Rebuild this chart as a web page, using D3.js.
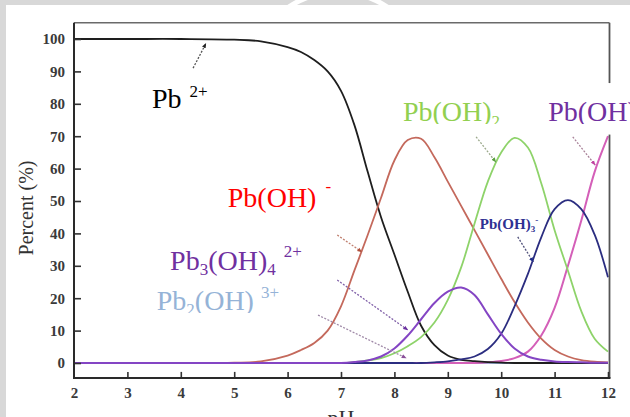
<!DOCTYPE html>
<html>
<head>
<meta charset="utf-8">
<script src="https://cdn.jsdelivr.net/npm/d3@7"></script>
<style>
  html, body { margin: 0; padding: 0; background: #fff; overflow: hidden; }
  svg { display: block; }
  svg text { font-family: "Liberation Serif", "Times New Roman", serif; }
</style>
</head>
<body>
<svg id="chart" width="630" height="417"></svg>
<script>
// ---------------- DATA ----------------
const pH = [2, 3, 4, 5, 5.5, 6, 6.25, 6.5, 6.75, 7, 7.25, 7.5, 7.75, 8, 8.25, 8.5, 8.75, 9, 9.25, 9.5, 9.75, 10, 10.25, 10.5, 10.75, 11, 11.25, 11.5, 11.75, 12];

const pb2 =      [100, 100, 100, 99.8, 99.3, 97.5, 96, 93.5, 90, 84, 73.5, 59, 45, 33.5, 22, 11.5, 5.5, 2.3, 1, 0.6, 0.3, 0.1, 0, 0, 0, 0, 0, 0, 0, 0];
const pbOH =     [0, 0, 0, 0.1, 0.5, 2.3, 4, 6.2, 10, 17.5, 28.5, 39.5, 51, 62.5, 68.8, 69.2, 63.5, 56, 48.5, 41, 33.5, 26, 18.8, 12.5, 7.5, 4, 2, 0.9, 0.4, 0.2];
const pbOH2 =    [0, 0, 0, 0, 0, 0, 0, 0, 0, 0, 0.3, 0.8, 1.5, 3, 5.2, 8, 12.5, 19.5, 29.5, 43, 56, 65, 69.5, 66.5, 55.5, 41, 28.5, 16, 7.5, 3.5];
const pbOH3 =    [0, 0, 0, 0, 0, 0, 0, 0, 0, 0, 0, 0, 0, 0, 0, 0, 0.2, 0.5, 1.1, 2, 4.3, 9, 17.5, 27.5, 38.8, 47.5, 50.3, 47.5, 39.6, 26.5];
const pb3OH4 =   [0, 0, 0, 0, 0, 0, 0, 0, 0, 0, 0.3, 0.8, 2, 4.5, 8.5, 13.5, 18.5, 22, 23.3, 21, 15, 9, 4.5, 2, 1, 0.5, 0.3, 0.2, 0.1, 0.1];
const pb2OH =    [0, 0, 0, 0, 0, 0, 0, 0, 0, 0, 0, 0, 0, 0, 0, 0, 0, 0, 0, 0, 0, 0, 0, 0, 0, 0, 0, 0, 0, 0];
const pbOH4 =    [0, 0, 0, 0, 0, 0, 0, 0, 0, 0, 0, 0, 0, 0, 0, 0, 0, 0, 0, 0, 0.2, 0.6, 1.5, 3.5, 8.5, 17, 30, 44, 59, 70];

const xTicks = [2, 3, 4, 5, 6, 7, 8, 9, 10, 11, 12];
const yTicks = [0, 10, 20, 30, 40, 50, 60, 70, 80, 90, 100];

// ---------------- LAYOUT ----------------
const FONT = "Liberation Serif, Times New Roman, serif";
const svg = d3.select("#chart");
const W = 630, H = 417;
const x = d3.scaleLinear().domain([2, 12]).range([74, 608]);
const y = d3.scaleLinear().domain([0, 100]).range([363, 39]);
const yTop = y(105), yBot = y(-4.6), xRight = 609.5;

// background: gray border + watermark arc
svg.append("rect").attr("width", W).attr("height", H).attr("fill", "#d8d8d8");
svg.append("rect").attr("x", 6).attr("y", 5).attr("width", W - 6).attr("height", H - 5).attr("fill", "#ffffff");
svg.append("clipPath").attr("id", "topband").append("rect").attr("x", 0).attr("y", 0).attr("width", W).attr("height", 5);
svg.append("circle").attr("cx", 338).attr("cy", 80).attr("r", 88)
  .attr("fill", "none").attr("stroke", "#ffffff").attr("stroke-width", 5)
  .attr("clip-path", "url(#topband)");

// ---------------- SERIES ----------------
const series = [
  { name: "Pb2(OH)3+", values: pb2OH, color: "#95b3d7", w: 2 },
  { name: "Pb(OH)4 2-", values: pbOH4, color: "#d45fb8", w: 2 },
  { name: "Pb2+", values: pb2, color: "#1e1e1e", w: 1.8 },
  { name: "Pb(OH)+", values: pbOH, color: "#c4695c", w: 1.8 },
  { name: "Pb(OH)2", values: pbOH2, color: "#8ed36a", w: 1.8 },
  { name: "Pb(OH)3-", values: pbOH3, color: "#2b2d80", w: 1.8 },
  { name: "Pb3(OH)4 2+", values: pb3OH4, color: "#8445c4", w: 2 }
];

const line = d3.line()
  .x((d, i) => x(pH[i]))
  .y(d => y(Math.max(d, 0)))
  .curve(d3.curveCatmullRom.alpha(0.5));

svg.append("g").selectAll("path").data(series).join("path")
  .attr("d", s => line(s.values))
  .attr("fill", "none")
  .attr("stroke", s => s.color)
  .attr("stroke-width", s => s.w)
  .attr("stroke-linejoin", "round");

// ---------------- ARROWS (data coords) ----------------
const arrows = [
  { from: [4.23, 91.0], to: [4.47, 98.6], line: "#555", head: "#222" },
  { from: [6.93, 39.5], to: [7.39, 34.3], line: "#c08070", head: "#b0503c" },
  { from: [6.93, 25.6], to: [8.25, 10.2], line: "#8060a8", head: "#6a2fa0" },
  { from: [6.57, 14.8], to: [8.22, 1.5], line: "#a08aa8", head: "#8a4f9a" },
  { from: [9.53, 69.8], to: [9.90, 62.0], line: "#9aa88a", head: "#5aa040" },
  { from: [11.34, 69.8], to: [11.76, 61.1], line: "#a88098", head: "#c040a0" },
  { from: [10.31, 38.9], to: [10.60, 31.2], line: "#50507a", head: "#1e2a8a" }
];
const defs = svg.append("defs");
arrows.forEach((a, i) => {
  defs.append("marker").attr("id", "ah" + i)
    .attr("viewBox", "0 0 10 10").attr("refX", 9).attr("refY", 5)
    .attr("markerWidth", 5).attr("markerHeight", 5).attr("orient", "auto")
    .attr("markerUnits", "userSpaceOnUse")
    .append("path").attr("d", "M0,1 L10,5 L0,9 Z").attr("fill", a.head);
});
svg.append("g").selectAll("line").data(arrows).join("line")
  .attr("x1", a => x(a.from[0])).attr("y1", a => y(a.from[1]))
  .attr("x2", a => x(a.to[0])).attr("y2", a => y(a.to[1]))
  .attr("stroke", a => a.line).attr("stroke-width", 1.3)
  .attr("stroke-dasharray", "2,1.5")
  .attr("marker-end", (a, i) => "url(#ah" + i + ")");

// white box over top-right region (behind labels)
svg.append("rect")
  .attr("x", x(7.97)).attr("y", y(86.4))
  .attr("width", W - x(7.97)).attr("height", y(70.5) - y(86.4))
  .attr("fill", "#ffffff");

// ---------------- FRAME & AXES ----------------
svg.append("line").attr("x1", 74).attr("x2", xRight).attr("y1", yTop).attr("y2", yTop)
  .attr("stroke", "#6a6a6a").attr("stroke-width", 1.5);
svg.append("line").attr("x1", xRight).attr("x2", xRight).attr("y1", yTop).attr("y2", y(86.4))
  .attr("stroke", "#555").attr("stroke-width", 1.8);
svg.append("line").attr("x1", xRight).attr("x2", xRight).attr("y1", y(70.5)).attr("y2", yBot)
  .attr("stroke", "#555").attr("stroke-width", 1.8);

const yAxis = d3.axisLeft(y).tickValues(yTicks).tickSizeInner(-7).tickSizeOuter(0).tickPadding(9);
const gy = svg.append("g").attr("transform", "translate(74,0)").call(yAxis)
  .attr("font-family", FONT).attr("font-size", 15);
gy.select(".domain").remove();
gy.append("line").attr("x1", 0).attr("x2", 0).attr("y1", yTop).attr("y2", yBot + 1)
  .attr("stroke", "#2a2a2a").attr("stroke-width", 2);
gy.selectAll(".tick line").attr("stroke", "#333").attr("stroke-width", 1.6);
gy.selectAll(".tick text").attr("font-size", 15).attr("font-weight", "bold").attr("fill", "#3a3a3a")
  .attr("font-family", FONT);

const xAxis = d3.axisBottom(x).tickValues(xTicks).tickSizeInner(-6).tickSizeOuter(0).tickPadding(9);
const gx = svg.append("g").attr("transform", `translate(0,${yBot})`).call(xAxis)
  .attr("font-family", FONT).attr("font-size", 15);
gx.select(".domain").remove();
gx.append("line").attr("x1", 73).attr("x2", xRight + 1).attr("y1", 0).attr("y2", 0)
  .attr("stroke", "#2a2a2a").attr("stroke-width", 2);
gx.selectAll(".tick line").attr("stroke", "#333").attr("stroke-width", 1.6);
gx.selectAll(".tick").filter(d => d === 2).select("line").remove();
gx.selectAll(".tick text").attr("font-size", 15).attr("font-weight", "bold").attr("fill", "#3a3a3a")
  .attr("font-family", FONT);

// axis titles
svg.append("text").attr("transform", "translate(33,208) rotate(-90)")
  .attr("text-anchor", "middle").attr("font-size", 20).attr("fill", "#333")
  .attr("font-family", FONT).text("Percent (%)");
svg.append("text").attr("x", 341).attr("y", 425).attr("text-anchor", "middle")
  .attr("font-size", 22).attr("fill", "#333").attr("font-family", FONT).text("pH");

// ---------------- LABELS ----------------
svg.append("clipPath").attr("id", "clipTR").append("rect")
  .attr("x", 0).attr("y", 0).attr("width", W).attr("height", 124);
svg.append("clipPath").attr("id", "clipLB").append("rect")
  .attr("x", 0).attr("y", 0).attr("width", W).attr("height", 313);

function label(pos, parts, color, size, opts = {}) {
  const t = svg.append("text").attr("x", x(pos[0])).attr("y", y(pos[1]))
    .attr("font-size", size).attr("fill", color).attr("font-family", FONT);
  if (opts.bold) t.attr("font-weight", "bold");
  if (opts.clip) t.attr("clip-path", `url(#${opts.clip})`);
  parts.forEach(p => {
    const s = t.append("tspan").text(p.t);
    if (p.size) s.attr("font-size", p.size);
    if (p.dx) s.attr("dx", p.dx);
    if (p.dy) s.attr("dy", p.dy);
  });
  return t;
}

label([3.46, 78.7], [{ t: "Pb" }, { t: "2+", size: 17, dx: 8, dy: -11 }], "#000000", 28);
label([4.88, 48.1], [{ t: "Pb(OH)" }, { t: "-", size: 17, dx: 9, dy: -15 }], "#ff0000", 28);
label([3.80, 28.7], [{ t: "Pb" }, { t: "3", size: 17, dy: 5 }, { t: "(OH)", dy: -5 }, { t: "4", size: 17, dy: 5 }, { t: "2+", size: 17, dx: 8, dy: -18 }], "#7030a0", 28);
label([3.55, 16.4], [{ t: "Pb" }, { t: "2", size: 17, dy: 5 }, { t: "(OH)", dy: -5 }, { t: "3+", size: 17, dx: 7, dy: -12 }], "#95b3d7", 28, { clip: "clipLB" });
label([8.16, 74.7], [{ t: "Pb(OH)" }, { t: "2", size: 17, dy: 6 }], "#92d050", 28, { clip: "clipTR" });
label([10.88, 74.7], [{ t: "Pb(OH)" }, { t: "4", size: 17, dy: 6 }, { t: "2-", size: 17, dx: 4, dy: -18 }], "#7030a0", 28, { clip: "clipTR" });
label([9.60, 41.4], [{ t: "Pb(OH)" }, { t: "3", size: 9, dy: 3 }, { t: "-", size: 9, dy: -9 }], "#2e3192", 15, { bold: true });
</script>
</body>
</html>
